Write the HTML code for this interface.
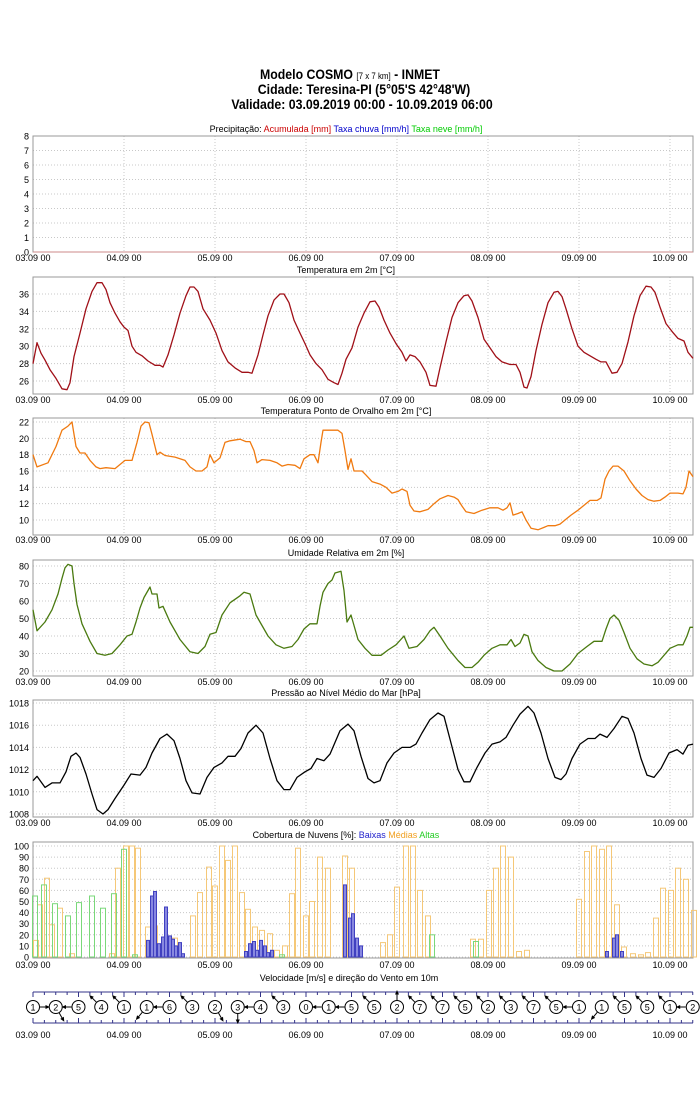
<!DOCTYPE html>
<html><head><meta charset="utf-8">
<style>
html,body{margin:0;padding:0;background:#fff;}
svg{display:block;font-family:"Liberation Sans",sans-serif;}
</style></head>
<body>
<svg id="s" width="700" height="1100" xmlns="http://www.w3.org/2000/svg">
<g font-weight="bold" font-size="14" text-anchor="middle" fill="#000">
<text x="350" y="79" transform="translate(350,0) scale(0.88,1) translate(-350,0)">Modelo COSMO <tspan font-size="9" font-weight="normal">[7 x 7 km]</tspan> - INMET</text>
<text x="364" y="94" transform="translate(364,0) scale(0.88,1) translate(-364,0)">Cidade: Teresina-PI (5°05'S 42°48'W)</text>
<text x="362" y="109" transform="translate(362,0) scale(0.88,1) translate(-362,0)">Validade: 03.09.2019 00:00 - 10.09.2019 06:00</text>
</g>
</svg>
<script>
var S=document.getElementById('s'),NS='http://www.w3.org/2000/svg';
function el(t,a,txt){var e=document.createElementNS(NS,t);for(var k in a)e.setAttribute(k,a[k]);if(txt!=null)e.textContent=txt;S.appendChild(e);return e;}
var X0=33,X1=693,DAY=91;
function dl(d){return (d<7?'0'+(3+d):'10')+'.09 00';}
function panel(top,bot,ticks,map,title,labY){
  for(var d=0;d<8;d++){var x=X0+d*DAY;el('line',{x1:x,x2:x,y1:top,y2:bot,stroke:'#c8c8c8','stroke-dasharray':'1,2','stroke-width':1});
   el('text',{x:x,y:labY,'font-size':9,'text-anchor':'middle'},dl(d));}
  ticks.forEach(function(v){var y=map(v);el('line',{x1:X0,x2:X1,y1:y,y2:y,stroke:'#c8c8c8','stroke-dasharray':'1,2'});
   el('text',{x:29,y:y+3.5,'font-size':9,'text-anchor':'end'},String(v));});
  el('rect',{x:X0,y:top,width:X1-X0,height:bot-top,fill:'none',stroke:'#999','stroke-width':1});
  if(title){var t=el('text',{x:346,y:top-4,'font-size':9,'text-anchor':'middle'});t.innerHTML=title;}
}
function lin(v0,y0,v1,y1){return function(v){return y0+(v-v0)*(y1-y0)/(v1-v0);};}
function line(pts,map,col){var d=pts.map(function(p){return p[0]+','+map(p[1]).toFixed(1);}).join(' ');
  el('polyline',{points:d,fill:'none',stroke:col,'stroke-width':1.3,'stroke-linejoin':'round'});}
var m1=lin(0,252,8,136);
panel(136,252,[0,1,2,3,4,5,6,7,8],m1,'Precipitação: <tspan fill="#c00">Acumulada [mm]</tspan> <tspan fill="#00c">Taxa chuva [mm/h]</tspan> <tspan fill="#0c0">Taxa neve [mm/h]</tspan>',261);
el('line',{x1:X0,x2:X1,y1:252,y2:252,stroke:'#c88','stroke-width':1});
var m2=lin(26,381,36,294);
panel(277,394,[26,28,30,32,34,36],m2,'Temperatura em 2m [°C]',403);
line([[33,28],[37,30.4],[41,29.2],[45,28.4],[50,27.3],[56,26.3],[62,25.1],[67,25],[70,25.8],[74,28.8],[80,31.5],[86,34.3],[92,36.3],[97,37.3],[102,37.3],[106,36.5],[110,35],[115,33.8],[120,32.8],[124,32.2],[128,31.8],[132,30],[136,29.3],[142,28.9],[148,28.3],[155,27.8],[160,27.8],[163,27.6],[168,29],[174,31.3],[180,33.8],[186,35.8],[190,36.8],[194,36.8],[198,36.3],[203,34.3],[210,33],[216,31.5],[222,29.5],[228,28.2],[235,27.5],[242,27],[248,27],[252,26.9],[258,29],[263,31.3],[268,33.5],[274,35.3],[280,36],[284,36],[289,35],[294,33],[300,31.5],[305,30.3],[310,29],[316,28],[322,27.3],[328,26.2],[334,25.8],[338,25.6],[342,26.9],[346,28.5],[352,29.8],[358,32.2],[364,33.8],[370,35.1],[375,35.2],[379,34.5],[384,33],[390,31.5],[396,30.3],[402,29.3],[406,28.3],[410,29],[415,28.8],[420,28.2],[426,27],[430,25.5],[436,25.4],[440,27.5],[446,30.5],[452,33.3],[458,35],[464,35.8],[468,35.9],[472,35.2],[478,33.3],[484,30.8],[490,29.8],[496,28.8],[502,28.2],[510,27.9],[516,27.9],[520,27],[524,25.3],[527,25.2],[531,26.5],[536,29.5],[542,32.5],[548,35],[554,36.2],[558,36.3],[562,35.7],[566,34.3],[572,32],[578,30],[584,29.3],[590,28.9],[596,28.5],[601,28.2],[606,28.2],[612,26.9],[617,27],[622,28],[628,30.5],[634,33.5],[640,35.8],[646,36.9],[651,36.8],[655,36.2],[660,34.5],[666,32.6],[672,31.7],[678,30.9],[684,30.6],[688,29.3],[693,28.6]],m2,'#a01018');
var m3=lin(10,520,22,422);
panel(418,535,[10,12,14,16,18,20,22],m3,'Temperatura Ponto de Orvalho em 2m [°C]',543);
line([[33,18],[37,16.5],[48,17],[56,19],[62,21],[68,21.5],[72,22],[76,19],[80,18.2],[85,18.2],[90,17.3],[96,16.5],[100,16.3],[106,16.4],[115,16.3],[120,16.8],[125,17.3],[132,17.3],[137,19.5],[141,21.5],[145,22],[149,21.9],[152,20.5],[155,19],[157,18],[160,18.3],[165,17.9],[175,17.7],[185,17.3],[190,16.5],[196,16],[202,16],[207,16.5],[210,18],[214,17],[220,17.6],[225,19.5],[230,19.7],[240,19.9],[246,19.6],[250,19.6],[254,18.5],[257,17],[262,17.4],[270,17.3],[277,17],[282,16.6],[288,16.8],[295,16.7],[300,16.3],[304,17.5],[310,18],[314,18],[318,17],[321,19.5],[323,21],[330,21],[338,21],[342,20.6],[345,18.5],[348,16.2],[351,17.5],[354,16],[362,16],[366,15.5],[372,14.7],[380,14.4],[386,14],[392,13.3],[398,13.5],[402,13.8],[407,13.5],[410,11.8],[414,11.1],[420,11],[428,11.3],[434,12],[440,12.6],[448,13],[454,12.8],[458,12.5],[462,11.7],[466,11],[474,10.8],[482,11.2],[490,11.5],[498,11.5],[503,11.2],[507,11.5],[510,12.1],[513,10.6],[518,10.8],[522,11],[526,10],[531,9],[538,8.8],[544,9.1],[548,9.3],[555,9.3],[560,9.5],[565,10],[571,10.6],[578,11.2],[585,11.9],[590,12.4],[597,12.4],[601,12.7],[605,15],[609,16],[613,16.6],[618,16.6],[624,16],[630,14.8],[636,13.8],[642,13],[648,12.5],[654,12.3],[660,12.4],[665,12.8],[670,13.3],[678,13.3],[683,13.2],[686,14],[689,16],[693,15.3]],m3,'#f07a10');
var m4=lin(20,671,80,566);
panel(560,676,[20,30,40,50,60,70,80],m4,'Umidade Relativa em 2m [%]',685);
line([[33,55],[37,43],[45,48],[52,55],[58,64],[62,73],[65,79],[68,81],[72,80],[74,70],[77,58],[82,47],[90,37],[97,30],[105,29],[112,30],[120,35],[127,40],[132,41],[136,48],[140,56],[144,62],[148,66],[150,68],[152,64],[157,64],[159,56],[163,57],[170,48],[180,38],[190,31],[198,30],[205,34],[210,41],[216,42],[222,52],[230,59],[240,63],[244,65],[250,64],[256,52],[262,46],[268,40],[276,35],[284,33],[292,34],[298,38],[304,44],[310,47],[317,47],[320,57],[323,65],[328,70],[332,72],[335,76],[341,77],[344,66],[347,48],[351,52],[354,46],[358,38],[365,33],[372,29],[381,29],[388,32],[396,35],[404,40],[409,33],[417,34],[424,38],[430,43],[434,45],[440,40],[448,33],[458,26],[465,22],[472,22],[478,25],[484,29],[492,33],[500,35],[507,35],[511,38],[515,34],[520,36],[524,41],[528,40],[532,31],[538,26],[546,22],[554,20],[562,20],[570,24],[578,30],[587,34],[594,37],[602,37],[606,44],[610,50],[614,52],[619,49],[624,42],[630,33],[637,27],[644,24],[652,23],[658,25],[664,29],[670,33],[678,35],[683,35],[687,40],[690,45],[693,45]],m4,'#4a7a10');
var m5=lin(1008,814,1018,703);
panel(700,817,[1008,1010,1012,1014,1016,1018],m5,'Pressão ao Nível Médio do Mar [hPa]',826);
line([[33,1011],[37,1011.4],[45,1010.4],[52,1010.8],[60,1010.8],[66,1011.8],[71,1013.2],[76,1013.5],[80,1013.1],[86,1011.6],[92,1009.8],[97,1008.4],[103,1008],[108,1008.4],[115,1009.4],[124,1010.6],[131,1011.6],[140,1011.5],[146,1012.2],[152,1013.5],[160,1014.8],[167,1015.2],[174,1014.6],[180,1013],[186,1011],[192,1009.9],[200,1009.8],[207,1011.3],[214,1012.2],[222,1012.6],[228,1013.2],[235,1013.2],[241,1013.9],[248,1015.3],[256,1016],[263,1015.3],[270,1013],[277,1011],[284,1010.2],[290,1010.2],[297,1011.3],[305,1011.8],[311,1012.1],[317,1013],[324,1012.8],[330,1013.4],[340,1015.5],[348,1016.1],[354,1015.5],[361,1013.2],[368,1011.2],[374,1010.8],[380,1011],[387,1012.6],[394,1013.5],[402,1014],[410,1014],[416,1014.3],[422,1015.3],[430,1016.5],[438,1017.1],[444,1016.8],[451,1014.4],[458,1012],[464,1010.9],[470,1010.9],[477,1012.2],[485,1013.5],[492,1014.3],[500,1014.5],[506,1014.9],[513,1016],[520,1017],[528,1017.7],[534,1017.1],[541,1015.3],[548,1013],[555,1011.3],[561,1011.1],[566,1011.6],[572,1013],[580,1014.3],[588,1014.8],[595,1014.8],[600,1015.2],[607,1014.9],[614,1015.7],[622,1016.8],[628,1016.6],[634,1015.3],[641,1013],[647,1011.5],[654,1011.3],[661,1012.1],[669,1013.5],[677,1013.8],[683,1013.4],[688,1014.2],[693,1014.3]],m5,'#000');
var m6=lin(0,957,100,846);
panel(842,958,[0,10,20,30,40,50,60,70,80,90,100],m6,'Cobertura de Nuvens [%]: <tspan fill="#22c">Baixas</tspan> <tspan fill="#f0a020">Médias</tspan> <tspan fill="#2c2">Altas</tspan>',968);
function bars(list,stroke,fill,w){list.forEach(function(b){var x=b[0]-w/2;var y=m6(b[1]);
 el('rect',{x:x.toFixed(1),y:y.toFixed(1),width:w,height:(957-y).toFixed(1),fill:fill,stroke:stroke,'stroke-width':1});});}
bars([[36,15],[40,47],[47,71],[52,29],[60,44],[72,3],[112,3],[118,80],[126,100],[132,100],[138,98],[148,27],[155,28],[175,17],[193,37],[200,58],[209,81],[215,64],[222,100],[228,87],[235,100],[242,58],[248,43],[255,27],[262,24],[270,21],[277,6],[285,10],[292,57],[298,98],[306,37],[312,50],[320,90],[328,80],[345,91],[352,80],[383,13],[390,20],[397,63],[406,100],[413,100],[420,60],[428,37],[473,16],[481,16],[489,60],[496,80],[503,100],[511,90],[519,5],[527,6],[579,52],[587,95],[594,100],[602,97],[609,100],[617,47],[624,9],[633,3],[641,2],[648,4],[656,35],[663,62],[671,60],[678,80],[686,70],[694,42]],'#f5c878','none',5);
bars([[35,55],[44,65],[55,48],[68,37],[79,49],[92,55],[103,44],[114,57],[124,97],[135,2],[432,20],[476,14],[282,2]],'#7ad87a','none',5);
bars([[148,15],[152,55],[155,59],[159,12],[163,18],[166,45],[170,19],[173,16],[176,10],[180,13],[183,3],[246,5],[250,12],[254,14],[257,6],[261,15],[265,10],[268,4],[272,6],[345,65],[350,35],[353,39],[357,17],[361,10],[607,5],[614,17],[617,20],[622,5]],'#4040c0','#8888e0',3);
// wind
el('text',{x:349,y:981,'font-size':9,'text-anchor':'middle'},'Velocidade [m/s] e direção do Vento em 10m');
el('line',{x1:X0,x2:X1,y1:992,y2:992,stroke:'#338','stroke-width':1});
el('line',{x1:X0,x2:X1,y1:1023,y2:1023,stroke:'#338','stroke-width':1});
for(var h=0;h<=58;h++){var x=X0+h*DAY/8;var L=(h%4==0)?5:3;
 el('line',{x1:x,x2:x,y1:992,y2:992+L,stroke:'#338'});el('line',{x1:x,x2:x,y1:1023,y2:1023-L,stroke:'#338'});}
for(var d=0;d<8;d++){el('text',{x:X0+d*DAY,y:1038,'font-size':9,'text-anchor':'middle'},dl(d));}
var ws=[1,2,5,4,1,1,6,3,2,3,4,3,0,1,5,5,2,7,7,5,2,3,7,5,1,1,5,5,1,2];
var ang=[0,300,180,135,135,230,180,135,300,270,180,135,135,180,180,135,90,135,135,135,135,135,135,135,180,230,135,135,135,180];
ws.forEach(function(v,i){var cx=X0+i*22.75,cy=1007;
 el('circle',{cx:cx,cy:cy,r:6.5,fill:'#fff',stroke:'#000','stroke-width':1});
 el('text',{x:cx,y:cy+3.5,'font-size':9,'text-anchor':'middle'},String(v));
 if(v>0){var a=ang[i]*Math.PI/180;var x1=cx+7*Math.cos(a),y1=cy-7*Math.sin(a),x2=cx+14*Math.cos(a),y2=cy-14*Math.sin(a);
  el('line',{x1:x1,y1:y1,x2:x2,y2:y2,stroke:'#000','stroke-width':1});
  var b=a;var p=[[x2+3*Math.cos(b),y2-3*Math.sin(b)],[x2+2.5*Math.cos(b+2.2),y2-2.5*Math.sin(b+2.2)],[x2+2.5*Math.cos(b-2.2),y2-2.5*Math.sin(b-2.2)]];
  el('polygon',{points:p.map(function(q){return q[0].toFixed(1)+','+q[1].toFixed(1);}).join(' '),fill:'#000'});}
});
</script>
</body></html>
